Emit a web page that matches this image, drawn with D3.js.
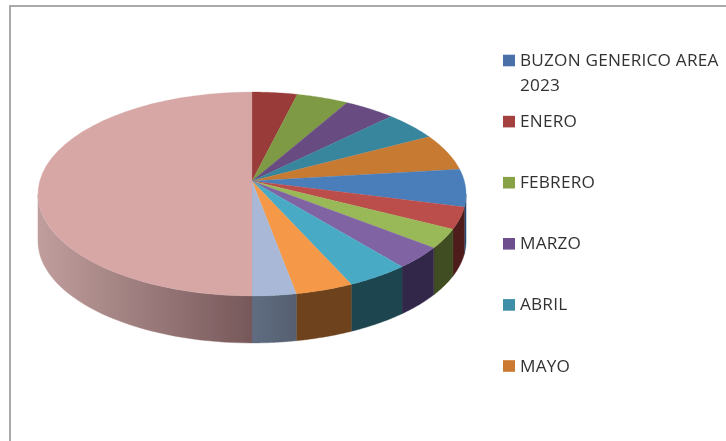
<!DOCTYPE html>
<html><head><meta charset="utf-8">
<style>html,body{margin:0;padding:0;background:#fff}svg{display:block}</style>
<script src="https://cdn.jsdelivr.net/npm/d3@7"></script></head>
<body><svg id="c" width="726" height="441"></svg>
<script>
const legendLabels = [["BUZON GENERICO AREA","2023"],["ENERO"],["FEBRERO"],["MARZO"],["ABRIL"],["MAYO"]];
const legendColors = ["#4a71a8","#a5413f","#86a244","#6c4f8c","#3c8ea6","#cc7a31"];
const sliceNames = ["ENERO","FEBRERO","MARZO","ABRIL","MAYO","JUNIO","JULIO","AGOSTO","SEPTIEMBRE","OCTUBRE","NOVIEMBRE","DICIEMBRE","TOTAL"];
const sliceValues = [13.9,15.9,15.7,16.7,21.0,21.4,12.3,11.0,12.5,15.2,13.9,10.5,180];
const topColors = ["#993b39","#7f9a44","#674c80","#38869e","#c67a33","#4a7ebb","#bb4e4c","#99b958","#8064a2","#4aaac5","#f59846","#a8b8d6","#d7a7a6"];
const wallColors = ["#5c2322","#4c5c28","#3e2e4d","#22505f","#764a1f","#2c4b70","#4f1f1f","#3f4d20","#33274a","#1e454f","#6d431d","#5a6577","#a07d7d"];

const W = 726, H = 441;
const svg = d3.select("#c");
const defs = svg.append("defs");
defs.append("filter").attr("id","soft").append("feGaussianBlur").attr("stdDeviation",0.45);
const pinkGrad = defs.append("linearGradient").attr("id","pinkWall")
  .attr("gradientUnits","userSpaceOnUse").attr("x1",38).attr("x2",252).attr("y1",0).attr("y2",0);
pinkGrad.append("stop").attr("offset",0).attr("stop-color","#c09e9d");
pinkGrad.append("stop").attr("offset",1).attr("stop-color","#77585a");
const blueGrad = defs.append("linearGradient").attr("id","blueWall")
  .attr("gradientUnits","userSpaceOnUse").attr("x1",252).attr("x2",297).attr("y1",0).attr("y2",0);
blueGrad.append("stop").attr("offset",0).attr("stop-color","#5f6d82");
blueGrad.append("stop").attr("offset",1).attr("stop-color","#565f70");

const root = svg.append("g").attr("filter","url(#soft)");
root.append("path").attr("d",d3.line()([[10,441],[10,6],[726,6]])).attr("fill","none").attr("stroke","#a9a9a9").attr("stroke-width",2);

const cx = 252, cy = 181, depth = 47, persp = 0.1275, ay = -100.3, ax = 212.3;
const proj = (th,r=1,dy=0) => {
  const u = r*Math.sin(th), v = r*Math.cos(th), k = 1 + persp*v;
  return [cx + ax*u/k, cy + ay*v/k + dy];
};
const arcs = d3.pie().sort(null).value(d=>d)(sliceValues);
const line = d3.line();
const samples = (a,b) => d3.range(0,41).map(i => a + (b-a)*i/40);

const thR = Math.PI/2 + Math.asin(persp), thL = 2*Math.PI - thR;
const walls = root.append("g");
arcs.forEach((d,i) => {
  const a = Math.max(d.startAngle, thR), b = Math.min(d.endAngle, thL);
  if (b <= a) return;
  const s = samples(a,b);
  const pts = s.map(t=>proj(t)).concat(s.slice().reverse().map(t=>proj(t,1,depth)));
  const fill = i===12 ? "url(#pinkWall)" : i===11 ? "url(#blueWall)" : wallColors[i];
  walls.append("path").attr("d",line(pts)+"Z").attr("fill",fill).attr("stroke",fill).attr("stroke-width",0.4);
});
const tops = root.append("g");
arcs.forEach((d,i) => {
  const pts = [[cx,cy]].concat(samples(d.startAngle,d.endAngle).map(t=>proj(t)));
  tops.append("path").attr("d",line(pts)+"Z").attr("fill",topColors[i]).attr("stroke",topColors[i]).attr("stroke-width",0.3);
});
const legY = d3.scalePoint().domain(d3.range(legendLabels.length)).range([60.5,366]);
const leg = root.append("g");
legendLabels.forEach((lines,i) => {
  const y = legY(i);
  leg.append("rect").attr("x",503).attr("y",y-5.8).attr("width",12).attr("height",11.6).attr("fill",legendColors[i]);
  lines.forEach((t,j) => leg.append("text").attr("x",520).attr("y",y+5.5+j*25)
    .attr("font-family","'Open Sans', sans-serif").attr("font-size",17.2).attr("letter-spacing",0.2).attr("fill","#333").text(t));
});
</script></body></html>
